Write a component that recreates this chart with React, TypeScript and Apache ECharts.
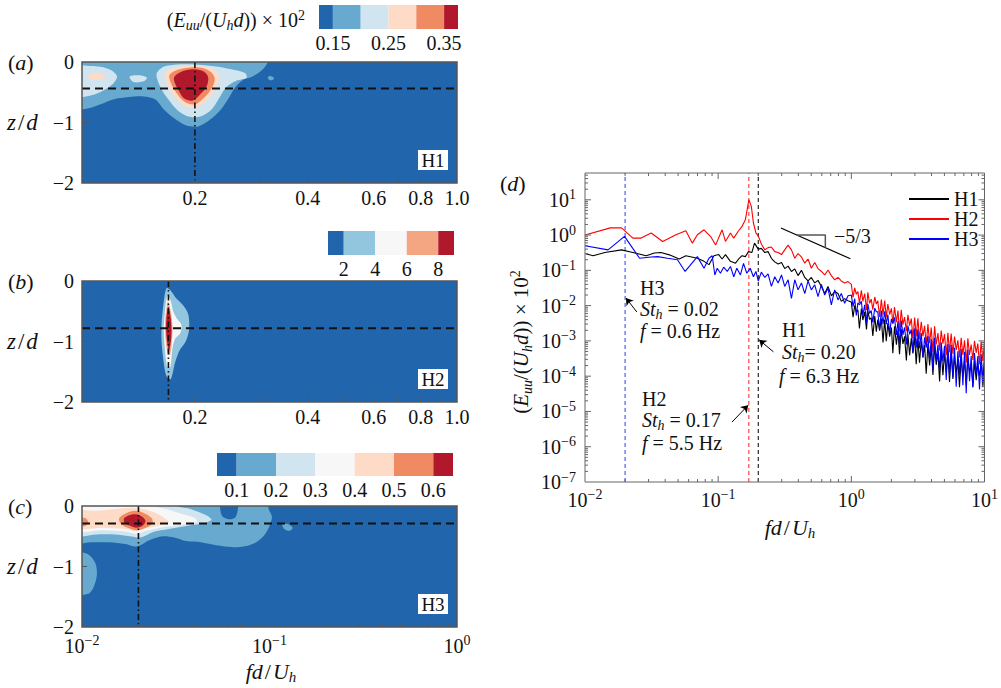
import React, { useEffect, useRef } from 'react';
import * as echarts from 'echarts';

const SERIF = 'Liberation Serif, Times New Roman, DejaVu Serif, serif';
const INK = '#111111';

type Pt = [number, number];
type Tick = [number, number];

// ---- peak Strouhal numbers and probe heights (H1, H2, H3) ----
const stNames = ['H1', 'H2', 'H3'];
const stPeak = [0.2, 0.17, 0.02];
const zProbe = [-0.44, -0.78, -0.29];
const panelFreqRange: Pt[] = [[0.1, 1], [0.1, 1], [0.01, 1]];

// ---- colour levels of the three contour maps ----
const levelsH1 = [0.125, 0.15, 0.2, 0.25, 0.3, 0.35, 0.375];
const coloursH1 = ['#2166ac', '#67a9cf', '#d1e5f0', '#fddbc7', '#ef8a62', '#b2182b'];
const barTicksH1 = [0.15, 0.25, 0.35];
const levelsH2 = [1, 2, 4, 6, 8, 9];
const coloursH2 = ['#2166ac', '#92c5de', '#f7f7f7', '#f4a582', '#b2182b'];
const barTicksH2 = [2, 4, 6, 8];
const levelsH3 = [0.05, 0.1, 0.2, 0.3, 0.4, 0.5, 0.6, 0.65];
const coloursH3 = ['#2166ac', '#67a9cf', '#d1e5f0', '#f7f7f7', '#fddbc7', '#ef8a62', '#b2182b'];
const barTicksH3 = [0.1, 0.2, 0.3, 0.4, 0.5, 0.6];

// ---- contour outlines, [fd/U_h, z/d] ----
const h1Lv1Main: Pt[] = [[0.09, 0.1], [0.315, 0.1], [0.31, -0.05], [0.3, -0.15], [0.285, -0.24], [0.268, -0.3], [0.256, -0.42], [0.246, -0.6], [0.235, -0.78], [0.222, -0.93], [0.205, -1.06], [0.19, -1.05], [0.176, -0.93], [0.165, -0.78], [0.157, -0.62], [0.146, -0.57], [0.133, -0.58], [0.121, -0.62], [0.112, -0.7], [0.105, -0.76], [0.09, -0.78]];
const h1Lv1Dot: Pt[] = [[0.316, -0.23], [0.324, -0.25], [0.324, -0.29], [0.317, -0.3], [0.313, -0.27]];
const h1Lv2Left: Pt[] = [[0.09, -0.06], [0.103, -0.06], [0.112, -0.08], [0.12, -0.14], [0.124, -0.24], [0.121, -0.36], [0.114, -0.47], [0.106, -0.55], [0.09, -0.58]];
const h1Lv2Mid: Pt[] = [[0.134, -0.24], [0.142, -0.22], [0.149, -0.26], [0.146, -0.32], [0.137, -0.33]];
const h1Lv2Core: Pt[] = [[0.158, -0.2], [0.165, -0.08], [0.18, -0.04], [0.2, -0.04], [0.225, -0.07], [0.25, -0.12], [0.272, -0.18], [0.275, -0.26], [0.258, -0.31], [0.242, -0.42], [0.232, -0.6], [0.222, -0.78], [0.207, -0.9], [0.192, -0.9], [0.18, -0.8], [0.17, -0.62], [0.162, -0.42]];
const h1Lv3Left: Pt[] = [[0.104, -0.22], [0.11, -0.19], [0.116, -0.23], [0.112, -0.29], [0.105, -0.29]];
const h1Lv3Core: Pt[] = [[0.166, -0.2], [0.175, -0.1], [0.19, -0.06], [0.21, -0.07], [0.225, -0.13], [0.232, -0.25], [0.228, -0.42], [0.218, -0.6], [0.204, -0.74], [0.19, -0.74], [0.178, -0.6], [0.17, -0.42]];
const h1Lv4Core: Pt[] = [[0.171, -0.22], [0.18, -0.13], [0.195, -0.09], [0.21, -0.1], [0.221, -0.17], [0.226, -0.28], [0.221, -0.45], [0.211, -0.6], [0.2, -0.7], [0.188, -0.66], [0.179, -0.52], [0.173, -0.36]];
const h1Lv5Core: Pt[] = [[0.176, -0.25], [0.184, -0.16], [0.197, -0.12], [0.21, -0.15], [0.217, -0.25], [0.215, -0.4], [0.207, -0.53], [0.197, -0.64], [0.187, -0.6], [0.181, -0.47], [0.177, -0.35]];

const h2Lv1: Pt[] = [[0.168, -0.12], [0.1725, -0.16], [0.178, -0.28], [0.186, -0.4], [0.192, -0.55], [0.193, -0.8], [0.189, -1.0], [0.182, -1.15], [0.177, -1.35], [0.1725, -1.62], [0.168, -1.58], [0.1648, -1.3], [0.163, -1.0], [0.163, -0.7], [0.1648, -0.4]];
const h2Lv2: Pt[] = [[0.169, -0.24], [0.1725, -0.33], [0.175, -0.5], [0.179, -0.62], [0.184, -0.72], [0.183, -0.86], [0.177, -0.96], [0.174, -1.15], [0.172, -1.42], [0.1688, -1.42], [0.1662, -1.1], [0.1652, -0.8], [0.1664, -0.5]];
const h2Lv3: Pt[] = [[0.1695, -0.34], [0.1725, -0.5], [0.1742, -0.75], [0.1736, -1.0], [0.1718, -1.22], [0.1692, -1.2], [0.167, -0.95], [0.1665, -0.7], [0.1676, -0.5]];
const h2Lv4: Pt[] = [[0.1698, -0.42], [0.1722, -0.58], [0.1733, -0.8], [0.1726, -1.0], [0.1707, -1.14], [0.1688, -1.03], [0.1676, -0.8], [0.168, -0.6]];

const h3Lv1Main: Pt[] = [[0.009, 0.1], [0.0545, 0.1], [0.0545, -0.03], [0.056, -0.17], [0.061, -0.22], [0.066, -0.18], [0.068, -0.03], [0.068, 0.1], [0.097, 0.1], [0.099, -0.05], [0.103, -0.18], [0.1, -0.33], [0.094, -0.48], [0.085, -0.6], [0.075, -0.66], [0.064, -0.68], [0.052, -0.65], [0.043, -0.6], [0.036, -0.58], [0.031, -0.52], [0.027, -0.5], [0.023, -0.56], [0.0195, -0.67], [0.017, -0.63], [0.014, -0.6], [0.011, -0.6], [0.009, -0.61]];
const h3Lv1Dot: Pt[] = [[0.117, -0.3], [0.126, -0.3], [0.133, -0.36], [0.128, -0.41], [0.12, -0.38]];
const h3Lv1Low: Pt[] = [[0.009, -0.78], [0.0108, -0.8], [0.0118, -0.95], [0.012, -1.15], [0.0115, -1.35], [0.0108, -1.45], [0.009, -1.45]];
const h3Lv2: Pt[] = [[0.009, 0.1], [0.032, 0.1], [0.032, 0], [0.037, -0.04], [0.042, -0.1], [0.047, -0.17], [0.049, -0.23], [0.044, -0.29], [0.036, -0.33], [0.029, -0.38], [0.024, -0.43], [0.0205, -0.52], [0.018, -0.5], [0.015, -0.47], [0.012, -0.47], [0.009, -0.48]];
const h3Lv3: Pt[] = [[0.009, 0.1], [0.02, 0.1], [0.024, 0], [0.029, -0.06], [0.034, -0.13], [0.04, -0.2], [0.041, -0.26], [0.034, -0.31], [0.027, -0.35], [0.022, -0.41], [0.0195, -0.46], [0.017, -0.42], [0.013, -0.4], [0.009, -0.4]];
const h3Lv4: Pt[] = [[0.009, -0.08], [0.012, -0.08], [0.015, -0.05], [0.018, -0.03], [0.021, -0.05], [0.024, -0.1], [0.027, -0.18], [0.029, -0.27], [0.025, -0.33], [0.021, -0.38], [0.0195, -0.42], [0.017, -0.38], [0.013, -0.36], [0.009, -0.36]];
const h3Lv5Core: Pt[] = [[0.0158, -0.2], [0.0172, -0.12], [0.0192, -0.08], [0.0215, -0.12], [0.0235, -0.2], [0.0238, -0.28], [0.0222, -0.35], [0.0197, -0.4], [0.0175, -0.36], [0.016, -0.28]];
const h3Lv5Edge: Pt[] = [[0.009, -0.2], [0.0104, -0.2], [0.0108, -0.27], [0.0104, -0.33], [0.009, -0.33]];
const h3Lv6: Pt[] = [[0.0168, -0.2], [0.0185, -0.14], [0.0205, -0.16], [0.0218, -0.24], [0.0212, -0.32], [0.0195, -0.36], [0.0178, -0.32], [0.0168, -0.27]];

const h1Regions: [number, Pt[]][] = [[1, h1Lv1Main], [1, h1Lv1Dot], [2, h1Lv2Left], [2, h1Lv2Mid], [2, h1Lv2Core], [3, h1Lv3Left], [3, h1Lv3Core], [4, h1Lv4Core], [5, h1Lv5Core]];
const h2Regions: [number, Pt[]][] = [[1, h2Lv1], [2, h2Lv2], [3, h2Lv3], [4, h2Lv4]];
const h3Regions: [number, Pt[]][] = [[1, h3Lv1Main], [1, h3Lv1Dot], [1, h3Lv1Low], [2, h3Lv2], [3, h3Lv3], [4, h3Lv4], [5, h3Lv5Core], [5, h3Lv5Edge], [6, h3Lv6]];

// ---- spectra (d): [fd/U_h, E_uu/(U_h d) x 10^2] ----
const lowH1: Pt[] = [[0.01, 0.3], [0.0115, 0.26], [0.0141, 0.32], [0.0188, 0.38], [0.0229, 0.32], [0.0288, 0.26], [0.0332, 0.31], [0.0372, 0.32], [0.043, 0.275], [0.051, 0.21], [0.0572, 0.26], [0.0698, 0.22], [0.0783, 0.18], [0.0853, 0.145], [0.0929, 0.26], [0.101, 0.28], [0.107, 0.21], [0.1135, 0.28], [0.1236, 0.18], [0.135, 0.16], [0.1426, 0.21], [0.151, 0.26], [0.16, 0.245], [0.169, 0.34], [0.179, 0.32], [0.1875, 0.59]];
const lowH2: Pt[] = [[0.01, 1.0], [0.0155, 1.6], [0.0188, 1.6], [0.0229, 0.82], [0.0264, 0.82], [0.0314, 1.14], [0.0383, 0.66], [0.0482, 1.02], [0.0572, 1.32], [0.064, 0.59], [0.0698, 1.02], [0.0783, 1.41], [0.0878, 0.91], [0.0957, 0.52], [0.107, 1.41], [0.1135, 0.66], [0.1236, 1.14], [0.131, 0.82], [0.141, 1.26], [0.151, 1.76], [0.16, 2.7], [0.17, 10.0], [0.1774, 6.5], [0.184, 2.2], [0.192, 1.15]];
const lowH3: Pt[] = [[0.01, 0.5], [0.0149, 0.38], [0.0198, 0.92], [0.0257, 0.22], [0.0314, 0.24], [0.0351, 0.245], [0.0417, 0.22], [0.0495, 0.2], [0.0565, 0.093], [0.0698, 0.245], [0.0783, 0.115], [0.0853, 0.22], [0.0902, 0.26], [0.0944, 0.074], [0.0984, 0.115], [0.104, 0.083], [0.11, 0.123], [0.117, 0.093], [0.1236, 0.129], [0.131, 0.066], [0.138, 0.115], [0.147, 0.074], [0.155, 0.158], [0.164, 0.083], [0.174, 0.115], [0.184, 0.066], [0.192, 0.093]];

// 0.2 <= fd/U_h < 1
const midFreq = [0.2, 0.211, 0.224, 0.237, 0.251, 0.266, 0.282, 0.299, 0.316, 0.335, 0.355, 0.376, 0.398, 0.422, 0.447, 0.473, 0.501, 0.531, 0.562, 0.596, 0.631, 0.668, 0.708, 0.75, 0.794, 0.841, 0.891, 0.944];
const midH1 = [0.4, 0.42, 0.32, 0.34, 0.22, 0.174, 0.151, 0.166, 0.112, 0.132, 0.093, 0.11, 0.071, 0.1, 0.063, 0.05, 0.063, 0.044, 0.052, 0.035, 0.022, 0.035, 0.019, 0.025, 0.022, 0.0132, 0.0158, 0.0138];
const midH2 = [0.95, 0.56, 0.38, 0.44, 0.46, 0.34, 0.32, 0.28, 0.38, 0.52, 0.38, 0.22, 0.3, 0.24, 0.16, 0.21, 0.115, 0.166, 0.112, 0.093, 0.074, 0.102, 0.071, 0.054, 0.063, 0.05, 0.044, 0.048];
const midH3 = [0.05, 0.089, 0.063, 0.079, 0.035, 0.066, 0.044, 0.074, 0.035, 0.054, 0.016, 0.054, 0.028, 0.044, 0.022, 0.05, 0.028, 0.039, 0.018, 0.04, 0.02, 0.031, 0.0105, 0.028, 0.0145, 0.022, 0.0117, 0.019];

// 1 <= fd/U_h <= 10, densely sampled noisy tail
const tailFreq = [1.0, 1.03, 1.06, 1.09, 1.12, 1.15, 1.19, 1.22, 1.26, 1.3, 1.33, 1.37, 1.41, 1.45, 1.5, 1.54, 1.58, 1.63, 1.68, 1.73, 1.78, 1.83, 1.88, 1.94, 2.0, 2.05, 2.11, 2.18, 2.24, 2.3, 2.37, 2.44, 2.51, 2.59, 2.66, 2.74, 2.82, 2.9, 2.99, 3.07, 3.16, 3.25, 3.35, 3.45, 3.55, 3.65, 3.76, 3.87, 3.98, 4.1, 4.22, 4.34, 4.47, 4.6, 4.73, 4.87, 5.01, 5.16, 5.31, 5.46, 5.62, 5.79, 5.96, 6.13, 6.31, 6.49, 6.68, 6.88, 7.08, 7.29, 7.5, 7.72, 7.94, 8.18, 8.41, 8.66, 8.91, 9.17, 9.44, 9.72, 10.0];
const tailH1 = [1.26e-2, 4.7e-3, 1.0e-2, 6.5e-3, 7.6e-3, 2.24e-3, 8.3e-3, 3.9e-3, 6.6e-3, 2.1e-3, 7.1e-3, 4.1e-3, 4.5e-3, 1.38e-3, 5.1e-3, 1.82e-3, 4.0e-3, 1.95e-3, 4.3e-3, 9.1e-4, 4.0e-3, 9.8e-4, 3.2e-3, 1.32e-3, 2.4e-3, 4.5e-4, 2.6e-3, 7.8e-4, 2.0e-3, 4.2e-4, 2.15e-3, 8.2e-4, 1.34e-3, 2.8e-4, 1.54e-3, 3.9e-4, 1.21e-3, 4.4e-4, 1.31e-3, 2.2e-4, 1.23e-3, 2.4e-4, 9.9e-4, 3.4e-4, 7.6e-4, 1.17e-4, 8.4e-4, 2.0e-4, 6.8e-4, 1.08e-4, 7.4e-4, 2.1e-4, 4.7e-4, 7.1e-5, 5.5e-4, 1.07e-4, 4.4e-4, 1.29e-4, 4.8e-4, 6.9e-5, 4.6e-4, 8.3e-5, 3.7e-4, 1.26e-4, 2.9e-4, 4.9e-5, 3.4e-4, 9.5e-5, 2.9e-4, 5.8e-5, 3.3e-4, 1.29e-4, 2.2e-4, 5.0e-5, 2.7e-4, 7.7e-5, 2.2e-4, 9.3e-5, 2.5e-4, 5.1e-5, 2.5e-4];
const tailH2 = [4.0e-2, 1.7e-2, 3.2e-2, 2.1e-2, 2.5e-2, 1.19e-2, 2.7e-2, 1.33e-2, 2.2e-2, 7.5e-3, 2.4e-2, 1.17e-2, 1.52e-2, 7.7e-3, 1.76e-2, 1.11e-2, 1.37e-2, 4.8e-3, 1.48e-2, 5.5e-3, 1.39e-2, 4.6e-3, 1.11e-2, 5.6e-3, 8.4e-3, 3.1e-3, 9.1e-3, 3.4e-3, 7.2e-3, 1.86e-3, 7.6e-3, 2.9e-3, 4.75e-3, 1.9e-3, 5.5e-3, 2.7e-3, 4.3e-3, 1.18e-3, 4.6e-3, 1.34e-3, 4.4e-3, 1.11e-3, 3.5e-3, 1.35e-3, 2.7e-3, 7.6e-4, 3.0e-3, 8.6e-4, 2.4e-3, 4.9e-4, 2.6e-3, 7.9e-4, 1.67e-3, 5.4e-4, 1.95e-3, 8.3e-4, 1.55e-3, 3.9e-4, 1.7e-3, 4.8e-4, 1.62e-3, 4.3e-4, 1.32e-3, 5.6e-4, 1.04e-3, 3.4e-4, 1.22e-3, 4.0e-4, 1.04e-3, 2.4e-4, 1.18e-3, 4.0e-4, 7.9e-4, 2.9e-4, 1.0e-3, 4.6e-4, 8.4e-4, 2.2e-4, 9.8e-4, 2.7e-4, 1.0e-3];
const tailH3 = [2.0e-2, 9.4e-3, 1.58e-2, 5.3e-3, 1.2e-2, 1.06e-2, 1.32e-2, 5.3e-3, 1.05e-2, 3.0e-3, 1.12e-2, 6.0e-3, 7.2e-3, 3.35e-3, 8.5e-3, 6.7e-3, 6.7e-3, 2.1e-3, 7.3e-3, 3.0e-3, 6.95e-3, 3.0e-3, 5.6e-3, 1.64e-3, 4.2e-3, 3.1e-3, 4.6e-3, 1.47e-3, 3.6e-3, 7.9e-4, 3.8e-3, 1.49e-3, 2.4e-3, 7.9e-4, 2.7e-3, 1.53e-3, 2.1e-3, 4.7e-4, 2.25e-3, 6.4e-4, 2.1e-3, 6.2e-4, 1.66e-3, 3.4e-4, 1.26e-3, 6.4e-4, 1.4e-3, 2.9e-4, 1.12e-3, 1.5e-4, 1.22e-3, 2.75e-4, 7.8e-4, 1.41e-4, 9.2e-4, 2.6e-4, 7.3e-4, 7.8e-5, 8.1e-4, 1.02e-4, 7.8e-4, 9.5e-5, 6.4e-4, 5.0e-5, 5.1e-4, 1.05e-4, 5.9e-4, 5.5e-5, 4.9e-4, 3.3e-5, 5.6e-4, 7.2e-5, 3.7e-4, 4.8e-5, 4.5e-4, 1.12e-4, 3.7e-4, 4.2e-5, 4.2e-4, 6.9e-5, 4.2e-4];

const spectrumColours = ['#000000', '#ff0000', '#0000ff'];
const peakLineColours = ['#000000', '#ff2020', '#2a3cff'];

// -5/3 reference slope and its step
const slopeLine: Pt[] = [[0.296, 1.58], [0.984, 0.213]];
const slopeStep: Pt[] = [[0.388, 1.0], [0.638, 1.0], [0.638, 0.44]];

// annotation arrows: [tail, head]
const arrows: [Pt, Pt][] = [
  [[0.0245, 0.0066], [0.0203, 0.0165]],
  [[0.26, 0.00049], [0.203, 0.00107]],
  [[0.127, 0.000005], [0.168, 0.000015]],
];

// ---------------------------------------------------------------------------

// Rich-text styles. Tokens are centred on the line; top padding pushes a
// subscript down, bottom padding lifts a superscript. Their small lineHeight
// keeps the line itself from growing.
function richSet(size: number) {
  const small = Math.round(size * 0.68);
  const smallLine = Math.round(size * 0.4);
  const base = { fontFamily: SERIF, fontSize: size, lineHeight: size + 1, color: INK, fill: INK };
  return {
    n: { ...base },
    i: { ...base, fontStyle: 'italic' },
    sl: { ...base, padding: [0, 2, 0, 2] },
    sb: { fontFamily: SERIF, fontSize: small, fontStyle: 'italic', lineHeight: smallLine, padding: [Math.round(size * 0.55), 0, 0, 0], color: INK, fill: INK },
    sp: { fontFamily: SERIF, fontSize: small, lineHeight: smallLine, padding: [0, 0, Math.round(size * 0.5), 0], color: INK, fill: INK },
  };
}

const minusSign = (v: number) => (v < 0 ? '\u2212' + Math.abs(v) : String(v));

function decadeLabel(v: number) {
  const e = Math.log10(v);
  if (Math.abs(e - Math.round(e)) > 0.01) return '';
  return `{n|10}{sp|${minusSign(Math.round(e))}}`;
}

function logTicks(lo: number, hi: number, major: number, minor: number): Tick[] {
  const out: Tick[] = [];
  for (let e = Math.floor(Math.log10(lo)); Math.pow(10, e) < hi; e++) {
    for (let m = 1; m < 10; m++) {
      const v = m * Math.pow(10, e);
      if (v > lo * 1.0001 && v < hi * 0.9999) out.push([v, m === 1 ? major : minor]);
    }
  }
  return out;
}

function spectrumData(low: Pt[], mid: number[], tail: number[]): Pt[] {
  return [
    ...low,
    ...midFreq.map((f, k) => [f, mid[k]] as Pt),
    ...tailFreq.map((f, k) => [f, tail[k]] as Pt),
  ];
}

function contourSeries(idx: number, regions: [number, Pt[]][], colours: string[]) {
  return {
    type: 'custom',
    xAxisIndex: idx,
    yAxisIndex: idx,
    clip: true,
    silent: true,
    z: 1,
    data: regions.map((r) => r[1][Math.floor(r[1].length / 2)]),
    renderItem: (params: any, api: any) => {
      const [lvl, pts] = regions[params.dataIndex];
      return {
        type: 'polygon',
        shape: { points: pts.map((p) => api.coord(p)), smooth: 0.3 },
        style: { fill: colours[lvl] },
      };
    },
  };
}

function colourBarSeries(idx: number, levels: number[], colours: string[]) {
  return {
    type: 'custom',
    xAxisIndex: idx,
    yAxisIndex: idx,
    silent: true,
    data: colours.map((_, i) => [levels[i], levels[i + 1]]),
    renderItem: (params: any, api: any) => {
      const a = api.coord([api.value(0), 0]);
      const b = api.coord([api.value(1), 1]);
      return {
        type: 'rect',
        shape: { x: a[0], y: b[1], width: b[0] - a[0], height: a[1] - b[1] },
        style: { fill: colours[params.dataIndex] },
      };
    },
  };
}

interface FrameOpts {
  ref: Pt;
  xTicks: Tick[];
  yTicks: Tick[];
  mirror: boolean;
  stroke: string;
  width: number;
  xLabels?: number[];
  tag?: string;
}

function frameSeries(idx: number, o: FrameOpts) {
  return {
    type: 'custom',
    xAxisIndex: idx,
    yAxisIndex: idx,
    clip: false,
    silent: true,
    z: 10,
    data: [o.ref],
    renderItem: (params: any, api: any) => {
      const cs = params.coordSys;
      const L = cs.x, T = cs.y, R = cs.x + cs.width, B = cs.y + cs.height;
      const seg = (x1: number, y1: number, x2: number, y2: number) => ({
        type: 'line',
        shape: { x1, y1, x2, y2 },
        style: { stroke: o.stroke, lineWidth: 1 },
      });
      const kids: any[] = [];
      for (const [v, len] of o.xTicks) {
        const px = api.coord([v, o.ref[1]])[0];
        kids.push(seg(px, B, px, B - len));
        if (o.mirror) kids.push(seg(px, T, px, T + len));
      }
      for (const [v, len] of o.yTicks) {
        const py = api.coord([o.ref[0], v])[1];
        kids.push(seg(L, py, L + len, py));
        if (o.mirror) kids.push(seg(R, py, R - len, py));
      }
      for (const v of o.xLabels || []) {
        const px = api.coord([v, o.ref[1]])[0];
        kids.push({
          type: 'text',
          x: px,
          y: B + 15,
          style: { text: v.toFixed(1), fontFamily: SERIF, fontSize: 20, fill: INK, align: 'center', verticalAlign: 'middle', textAlign: 'center', textVerticalAlign: 'middle' },
        });
      }
      if (o.tag) {
        kids.push({ type: 'rect', shape: { x: R - 39, y: B - 33, width: 30, height: 20 }, style: { fill: '#ffffff' } });
        kids.push({
          type: 'text',
          x: R - 24,
          y: B - 23,
          style: { text: o.tag, fontFamily: SERIF, fontSize: 19, fill: INK, align: 'center', verticalAlign: 'middle', textAlign: 'center', textVerticalAlign: 'middle' },
        });
      }
      kids.push({
        type: 'rect',
        shape: { x: L, y: T, width: cs.width, height: cs.height },
        style: { fill: 'none', stroke: o.stroke, lineWidth: o.width },
      });
      return { type: 'group', children: kids };
    },
  };
}

function textEl(x: number, y: number, text: string, size: number, align = 'left', rotation = 0) {
  return {
    type: 'text',
    x,
    y,
    rotation,
    silent: true,
    style: {
      text,
      rich: richSet(size),
      fontFamily: SERIF,
      fontSize: size,
      fill: INK,
      align,
      verticalAlign: 'middle',
      textAlign: align,
      textVerticalAlign: 'middle',
    },
  };
}

const noAxisParts = { axisLine: { show: false }, axisTick: { show: false }, splitLine: { show: false } };
const plainLabel = { fontFamily: SERIF, fontSize: 20, color: INK };

function buildOption() {
  const contourGrids = [
    { left: 82, top: 62, width: 375, height: 121 },
    { left: 82, top: 281, width: 375, height: 121 },
    { left: 82, top: 506, width: 375, height: 121 },
  ].map((g) => ({ ...g, show: true, backgroundColor: coloursH1[0], borderWidth: 0 }));

  const grid = [
    ...contourGrids,
    { left: 585, top: 173, width: 403, height: 309 },
    { left: 319, top: 5, width: 139, height: 24 },
    { left: 328, top: 231, width: 126, height: 24 },
    { left: 217, top: 453, width: 236, height: 23 },
  ];

  const barAxis = (gridIndex: number, levels: number[], ticks: number[]) => ({
    gridIndex,
    type: 'value',
    min: levels[0],
    max: levels[levels.length - 1],
    ...noAxisParts,
    axisLabel: { ...plainLabel, margin: 4, customValues: ticks, formatter: (v: number) => String(+v.toFixed(2)) },
  });

  const xAxis = [
    { gridIndex: 0, type: 'log', logBase: 10, min: 0.1, max: 1, axisLabel: { show: false }, ...noAxisParts },
    { gridIndex: 1, type: 'log', logBase: 10, min: 0.1, max: 1, axisLabel: { show: false }, ...noAxisParts },
    { gridIndex: 2, type: 'log', logBase: 10, min: 0.01, max: 1, ...noAxisParts, axisLabel: { formatter: decadeLabel, rich: richSet(20), margin: 8 } },
    { gridIndex: 3, type: 'log', logBase: 10, min: 0.01, max: 10, ...noAxisParts, axisLabel: { formatter: decadeLabel, rich: richSet(20), margin: 7 } },
    barAxis(4, levelsH1, barTicksH1),
    barAxis(5, levelsH2, barTicksH2),
    barAxis(6, levelsH3, barTicksH3),
  ];

  const depthAxis = (gridIndex: number) => ({
    gridIndex,
    type: 'value',
    min: -2,
    max: 0,
    interval: 1,
    ...noAxisParts,
    axisLabel: { ...plainLabel, lineHeight: 15, margin: 8, formatter: (v: number) => minusSign(v) },
  });
  const hiddenAxis = (gridIndex: number) => ({ gridIndex, type: 'value', min: 0, max: 1, show: false });

  const yAxis = [
    depthAxis(0),
    depthAxis(1),
    depthAxis(2),
    { gridIndex: 3, type: 'log', logBase: 10, min: 1e-7, max: 57.5, ...noAxisParts, axisLabel: { formatter: decadeLabel, rich: richSet(20), margin: 9 } },
    hiddenAxis(4),
    hiddenAxis(5),
    hiddenAxis(6),
  ];

  const series: any[] = [];

  // contour maps
  series.push(contourSeries(0, h1Regions, coloursH1));
  series.push(contourSeries(1, h2Regions, coloursH2));
  series.push(contourSeries(2, h3Regions, coloursH3));

  // probe height (dashed) and peak frequency (dash-dot) guides
  for (let i = 0; i < 3; i++) {
    const [f0, f1] = panelFreqRange[i];
    series.push({
      type: 'line', xAxisIndex: i, yAxisIndex: i, silent: true, symbol: 'none', z: 5,
      data: [[f0, zProbe[i]], [f1, zProbe[i]]],
      lineStyle: { color: INK, width: 2, type: [8, 5] },
    });
    series.push({
      type: 'line', xAxisIndex: i, yAxisIndex: i, silent: true, symbol: 'none', z: 5,
      data: [[stPeak[i], 0], [stPeak[i], -2]],
      lineStyle: { color: INK, width: 1.6, type: [6, 3, 1.5, 3] },
    });
  }

  // frames and ticks
  const linTicks: Tick[] = [0.2, 0.3, 0.4, 0.5, 0.6, 0.7, 0.8, 0.9].map((v) => [v, 4] as Tick);
  const depthTicks: Tick[] = [[-1, 5]];
  series.push(frameSeries(0, { ref: [0.1, -2], xTicks: linTicks, yTicks: depthTicks, mirror: false, stroke: '#555555', width: 1.5, xLabels: [0.2, 0.4, 0.6, 0.8, 1.0], tag: 'H1' }));
  series.push(frameSeries(1, { ref: [0.1, -2], xTicks: linTicks, yTicks: depthTicks, mirror: false, stroke: '#555555', width: 1.5, xLabels: [0.2, 0.4, 0.6, 0.8, 1.0], tag: 'H2' }));
  series.push(frameSeries(2, { ref: [0.01, -2], xTicks: logTicks(0.01, 1, 5, 3), yTicks: depthTicks, mirror: false, stroke: '#555555', width: 1.5, tag: 'H3' }));
  series.push(frameSeries(3, { ref: [0.01, 1e-7], xTicks: logTicks(0.01, 10, 6, 3), yTicks: logTicks(1e-7, 57.5, 6, 3), mirror: true, stroke: '#666666', width: 1 }));

  // colour bars
  series.push(colourBarSeries(4, levelsH1, coloursH1));
  series.push(colourBarSeries(5, levelsH2, coloursH2));
  series.push(colourBarSeries(6, levelsH3, coloursH3));

  // dashed lines at the spectral peaks
  for (let i = 0; i < 3; i++) {
    series.push({
      type: 'line', xAxisIndex: 3, yAxisIndex: 3, silent: true, symbol: 'none', z: 2,
      data: [[stPeak[i], 1e-7], [stPeak[i], 57.5]],
      lineStyle: { color: peakLineColours[i], width: 1, type: [4, 3] },
    });
  }

  // spectra
  const lows = [lowH1, lowH2, lowH3];
  const mids = [midH1, midH2, midH3];
  const tails = [tailH1, tailH2, tailH3];
  for (let i = 0; i < 3; i++) {
    series.push({
      type: 'line',
      name: stNames[i],
      xAxisIndex: 3,
      yAxisIndex: 3,
      symbol: 'none',
      z: 3 + i,
      data: spectrumData(lows[i], mids[i], tails[i]),
      lineStyle: { color: spectrumColours[i], width: 1.1 },
      itemStyle: { color: spectrumColours[i] },
    });
  }

  series.push({
    type: 'line', xAxisIndex: 3, yAxisIndex: 3, silent: true, symbol: 'none', z: 8,
    data: slopeLine,
    lineStyle: { color: '#000000', width: 1.2 },
    markLine: {
      silent: true,
      symbol: ['none', 'arrow'],
      symbolSize: 7,
      label: { show: false },
      lineStyle: { color: '#000000', width: 1, type: 'solid' },
      data: arrows.map(([a, b]) => [{ coord: a }, { coord: b }]),
    },
  });
  series.push({
    type: 'line', xAxisIndex: 3, yAxisIndex: 3, silent: true, symbol: 'none', z: 8,
    data: slopeStep,
    lineStyle: { color: '#555555', width: 1.5 },
  });

  const titleEuu = '{n|(}{i|E}{sb|uu}{n|/(}{i|U}{sb|h}{i|d}{n|)) × 10}{sp|2}';

  const graphic = {
    elements: [
      textEl(8, 62, '{n|(}{i|a}{n|)}', 22),
      textEl(8, 281, '{n|(}{i|b}{n|)}', 22),
      textEl(8, 506, '{n|(}{i|c}{n|)}', 22),
      textEl(500, 183, '{n|(}{i|d}{n|)}', 22),
      textEl(7, 122, '{i|z}{sl|/}{i|d}', 23),
      textEl(7, 341, '{i|z}{sl|/}{i|d}', 23),
      textEl(7, 566, '{i|z}{sl|/}{i|d}', 23),
      textEl(305, 20, titleEuu, 20, 'right'),
      textEl(521, 342, titleEuu, 21, 'center', Math.PI / 2),
      textEl(271, 671, '{i|fd}{sl|/}{i|U}{sb|h}', 22, 'center'),
      textEl(790, 527, '{i|fd}{sl|/}{i|U}{sb|h}', 22, 'center'),
      textEl(640, 288, '{n|H3}', 20),
      textEl(640, 309, '{i|St}{sb|h}{n| = 0.02}', 20),
      textEl(640, 331, '{i|f}{n| = 0.6 Hz}', 20),
      textEl(782, 330, '{n|H1}', 20),
      textEl(782, 352, '{i|St}{sb|h}{n|= 0.20}', 20),
      textEl(779, 376, '{i|f}{n| = 6.3 Hz}', 20),
      textEl(642, 399, '{n|H2}', 20),
      textEl(642, 420, '{i|St}{sb|h}{n| = 0.17}', 20),
      textEl(642, 443, '{i|f}{n| = 5.5 Hz}', 20),
      textEl(834, 236, '{n|\u22125/3}', 20),
    ],
  };

  return {
    animation: false,
    backgroundColor: '#ffffff',
    textStyle: { fontFamily: SERIF },
    grid,
    xAxis,
    yAxis,
    legend: {
      data: stNames,
      orient: 'vertical',
      left: 904,
      top: 184,
      icon: 'rect',
      itemWidth: 40,
      itemHeight: 2,
      itemGap: 0,
      textStyle: { fontFamily: SERIF, fontSize: 20, color: INK, lineHeight: 20 },
    },
    graphic,
    series,
  };
}

export default function App() {
  const ref = useRef<HTMLDivElement>(null);
  useEffect(() => {
    if (!ref.current) return;
    const chart = echarts.init(ref.current, undefined, { renderer: 'svg' });
    chart.setOption(buildOption() as any);
    return () => chart.dispose();
  }, []);
  return (
    <div
      ref={ref}
      style={{ position: 'absolute', left: 0, top: 0, width: 1001, height: 688, background: '#ffffff' }}
    />
  );
}
